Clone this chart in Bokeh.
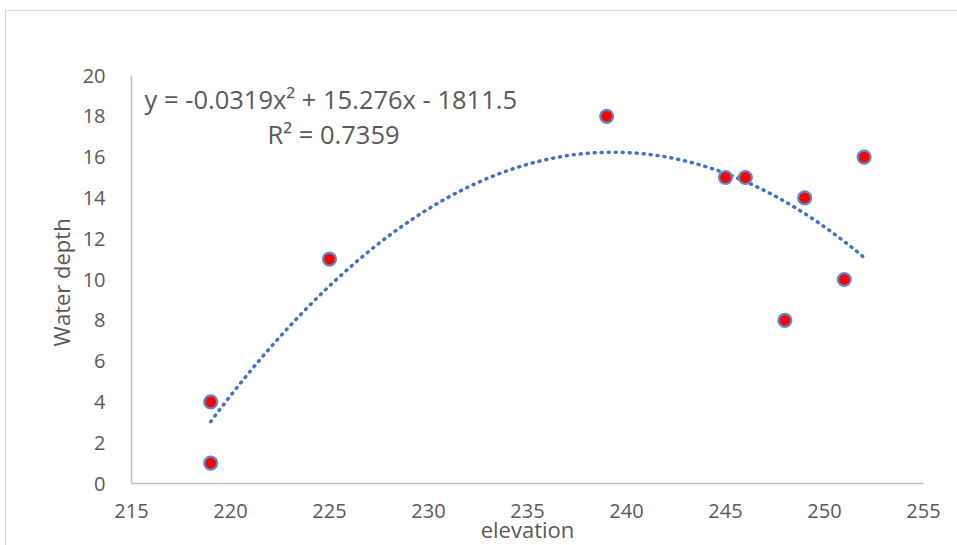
import numpy as np
from bokeh.plotting import figure
from bokeh.models import Label, Range1d, FixedTicker
from bokeh.embed import file_html
from bokeh.resources import INLINE

# data
elevation = [219, 219, 225, 239, 245, 246, 248, 249, 251, 252]
water_depth = [4, 1, 11, 18, 15, 15, 8, 14, 10, 16]
x_ticks = [215, 220, 225, 230, 235, 240, 245, 250, 255]
y_ticks = [0, 2, 4, 6, 8, 10, 12, 14, 16, 18, 20]
equation_text = "y = -0.0319x\u00b2 + 15.276x - 1811.5"
r2_text = "R\u00b2 = 0.7359"

FONT = "Open Sans"
TXT = "#595959"

p = figure(width=952, height=535, output_backend="svg", toolbar_location=None,
           x_range=Range1d(215, 255), y_range=Range1d(0, 20),
           min_border_left=125, min_border_right=35, min_border_top=64,
           min_border_bottom=62,
           margin=(10, 0, 0, 5),
           styles={"border-top": "1px solid #d9d9d9", "border-left": "1px solid #d9d9d9",
                   "box-sizing": "border-box"})

p.outline_line_color = None
p.grid.visible = False

for ax in (p.xaxis[0], p.yaxis[0]):
    ax.axis_line_color = "#bfbfbf"
    ax.axis_line_width = 1.5
    ax.major_tick_line_color = None
    ax.minor_tick_line_color = None
    ax.major_label_text_font = FONT
    ax.major_label_text_font_size = "20px"
    ax.major_label_text_color = TXT
    ax.axis_label_text_font = FONT
    ax.axis_label_text_font_size = "22px"
    ax.axis_label_text_color = TXT
    ax.axis_label_text_font_style = "normal"

p.xaxis.ticker = FixedTicker(ticks=x_ticks)
p.yaxis.ticker = FixedTicker(ticks=y_ticks)
p.xaxis.axis_label = "elevation"
p.yaxis.axis_label = "Water  depth"
p.xaxis.major_label_standoff = 14
p.xaxis.axis_label_standoff = -7
p.yaxis.major_label_standoff = 20
p.yaxis.axis_label_standoff = 4

# polynomial (order 2) trendline fitted to the data
coef = np.polyfit(elevation, water_depth, 2)
xs = np.linspace(min(elevation), max(elevation), 300)
ys = np.polyval(coef, xs)
p.line(xs, ys, line_color="#4472C4", line_width=3.5, line_dash="1 6",
       line_cap="round")

p.scatter(elevation, water_depth, size=13, fill_color="#FF0000",
          line_color="#5B8BD0", line_width=2.2)

p.add_layout(Label(x=215.66, y=18.87, text=equation_text, text_font=FONT,
                   text_font_size="25.5px", text_color=TXT, text_baseline="middle"))
p.add_layout(Label(x=221.87, y=17.11, text=r2_text, text_font=FONT,
                   text_font_size="25.5px", text_color=TXT, text_baseline="middle"))

open("out.html", "w").write(file_html(p, INLINE))
